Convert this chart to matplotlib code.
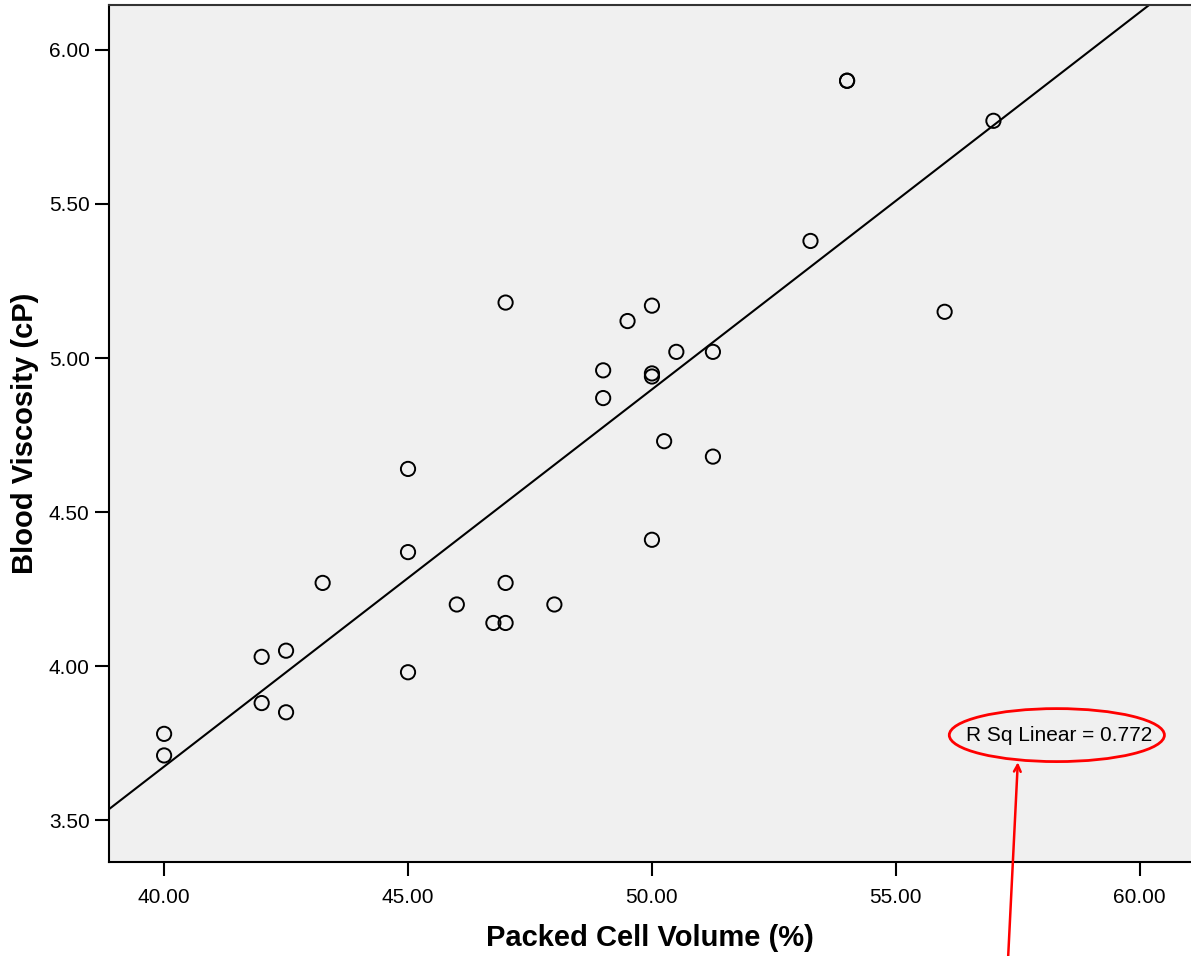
import matplotlib
matplotlib.use("Agg")

import numpy as np
import matplotlib.pyplot as plt
from matplotlib.patches import Ellipse

# ─────────────────────────────────────────────────────────────
# DATA
# ─────────────────────────────────────────────────────────────
pcv = [40.0, 40.0, 42.0, 42.0, 42.5, 42.5, 43.25, 45.0, 45.0, 45.0,
       46.0, 46.75, 47.0, 47.0, 47.0, 48.0, 49.0, 49.0, 49.5, 50.0,
       50.0, 50.0, 50.0, 50.25, 50.5, 51.25, 51.25, 53.25, 54.0, 54.0,
       56.0, 57.0]
viscosity = [3.78, 3.71, 4.03, 3.88, 4.05, 3.85, 4.27, 4.64, 4.37, 3.98,
             4.20, 4.14, 4.14, 4.27, 5.18, 4.20, 4.96, 4.87, 5.12, 5.17,
             4.95, 4.94, 4.41, 4.73, 5.02, 5.02, 4.68, 5.38, 5.90, 5.90,
             5.15, 5.77]
x_ticks = [40, 45, 50, 55, 60]
y_ticks = [3.5, 4.0, 4.5, 5.0, 5.5, 6.0]
r_sq_text = "R Sq Linear = 0.772"

plt.rcParams["font.family"] = ["Liberation Sans", "DejaVu Sans"]

fig = plt.figure(figsize=(11.91, 9.56), dpi=100)
ax = fig.add_axes([0.0915, 0.0983, 0.9085, 0.8965])
ax.set_facecolor("#F0F0F0")

x_lo, x_hi = 38.87, 61.05
y_lo, y_hi = 3.364, 6.146
ax.set_xlim(x_lo, x_hi)
ax.set_ylim(y_lo, y_hi)

# fit line across the whole x range
slope, icpt = np.polyfit(pcv, viscosity, 1)
xs = np.array([x_lo, x_hi])
ax.plot(xs, icpt + slope * xs, color="black", lw=1.5, zorder=2)

ax.scatter(pcv, viscosity, s=105, facecolors="none", edgecolors="black",
           linewidths=1.4, zorder=3)

# ─────────────────────────────────────────────────────────────
# axes styling (SPSS look)
# ─────────────────────────────────────────────────────────────
for side in ["left", "bottom", "top"]:
    ax.spines[side].set_linewidth(1.5)
    ax.spines[side].set_color("black")
ax.spines["top"].set_color("#333333")
ax.spines["right"].set_visible(False)

ax.set_xticks(x_ticks)
ax.set_yticks(y_ticks)
ax.xaxis.set_major_formatter(plt.FuncFormatter(lambda v, _: f"{v:.2f}"))
ax.yaxis.set_major_formatter(plt.FuncFormatter(lambda v, _: f"{v:.2f}"))
ax.tick_params(axis="both", direction="out", length=10, width=1.5,
               labelsize=15, color="black")
ax.tick_params(axis="x", pad=9)
ax.tick_params(axis="y", pad=4)

ax.set_xlabel("Packed Cell Volume (%)", fontsize=21, fontweight="bold",
              labelpad=12)
ax.set_ylabel("Blood Viscosity (cP)", fontsize=21, fontweight="bold",
              labelpad=7)

# R² label with red ellipse and arrow
ax.text(58.35, 3.776, r_sq_text, fontsize=15, ha="center", va="center",
        zorder=5)
ax.add_patch(Ellipse((58.3, 3.776), 4.41, 0.172, fill=False,
                     edgecolor="red", lw=2.0, zorder=5, clip_on=False))
ax.annotate("", xy=(57.5, 3.688), xytext=(57.3, 3.05),
            arrowprops=dict(arrowstyle="->", color="red", lw=1.8,
                            mutation_scale=12, shrinkA=0, shrinkB=0),
            annotation_clip=False, zorder=6)

fig.savefig("out.png", dpi=100)
plt.close(fig)
